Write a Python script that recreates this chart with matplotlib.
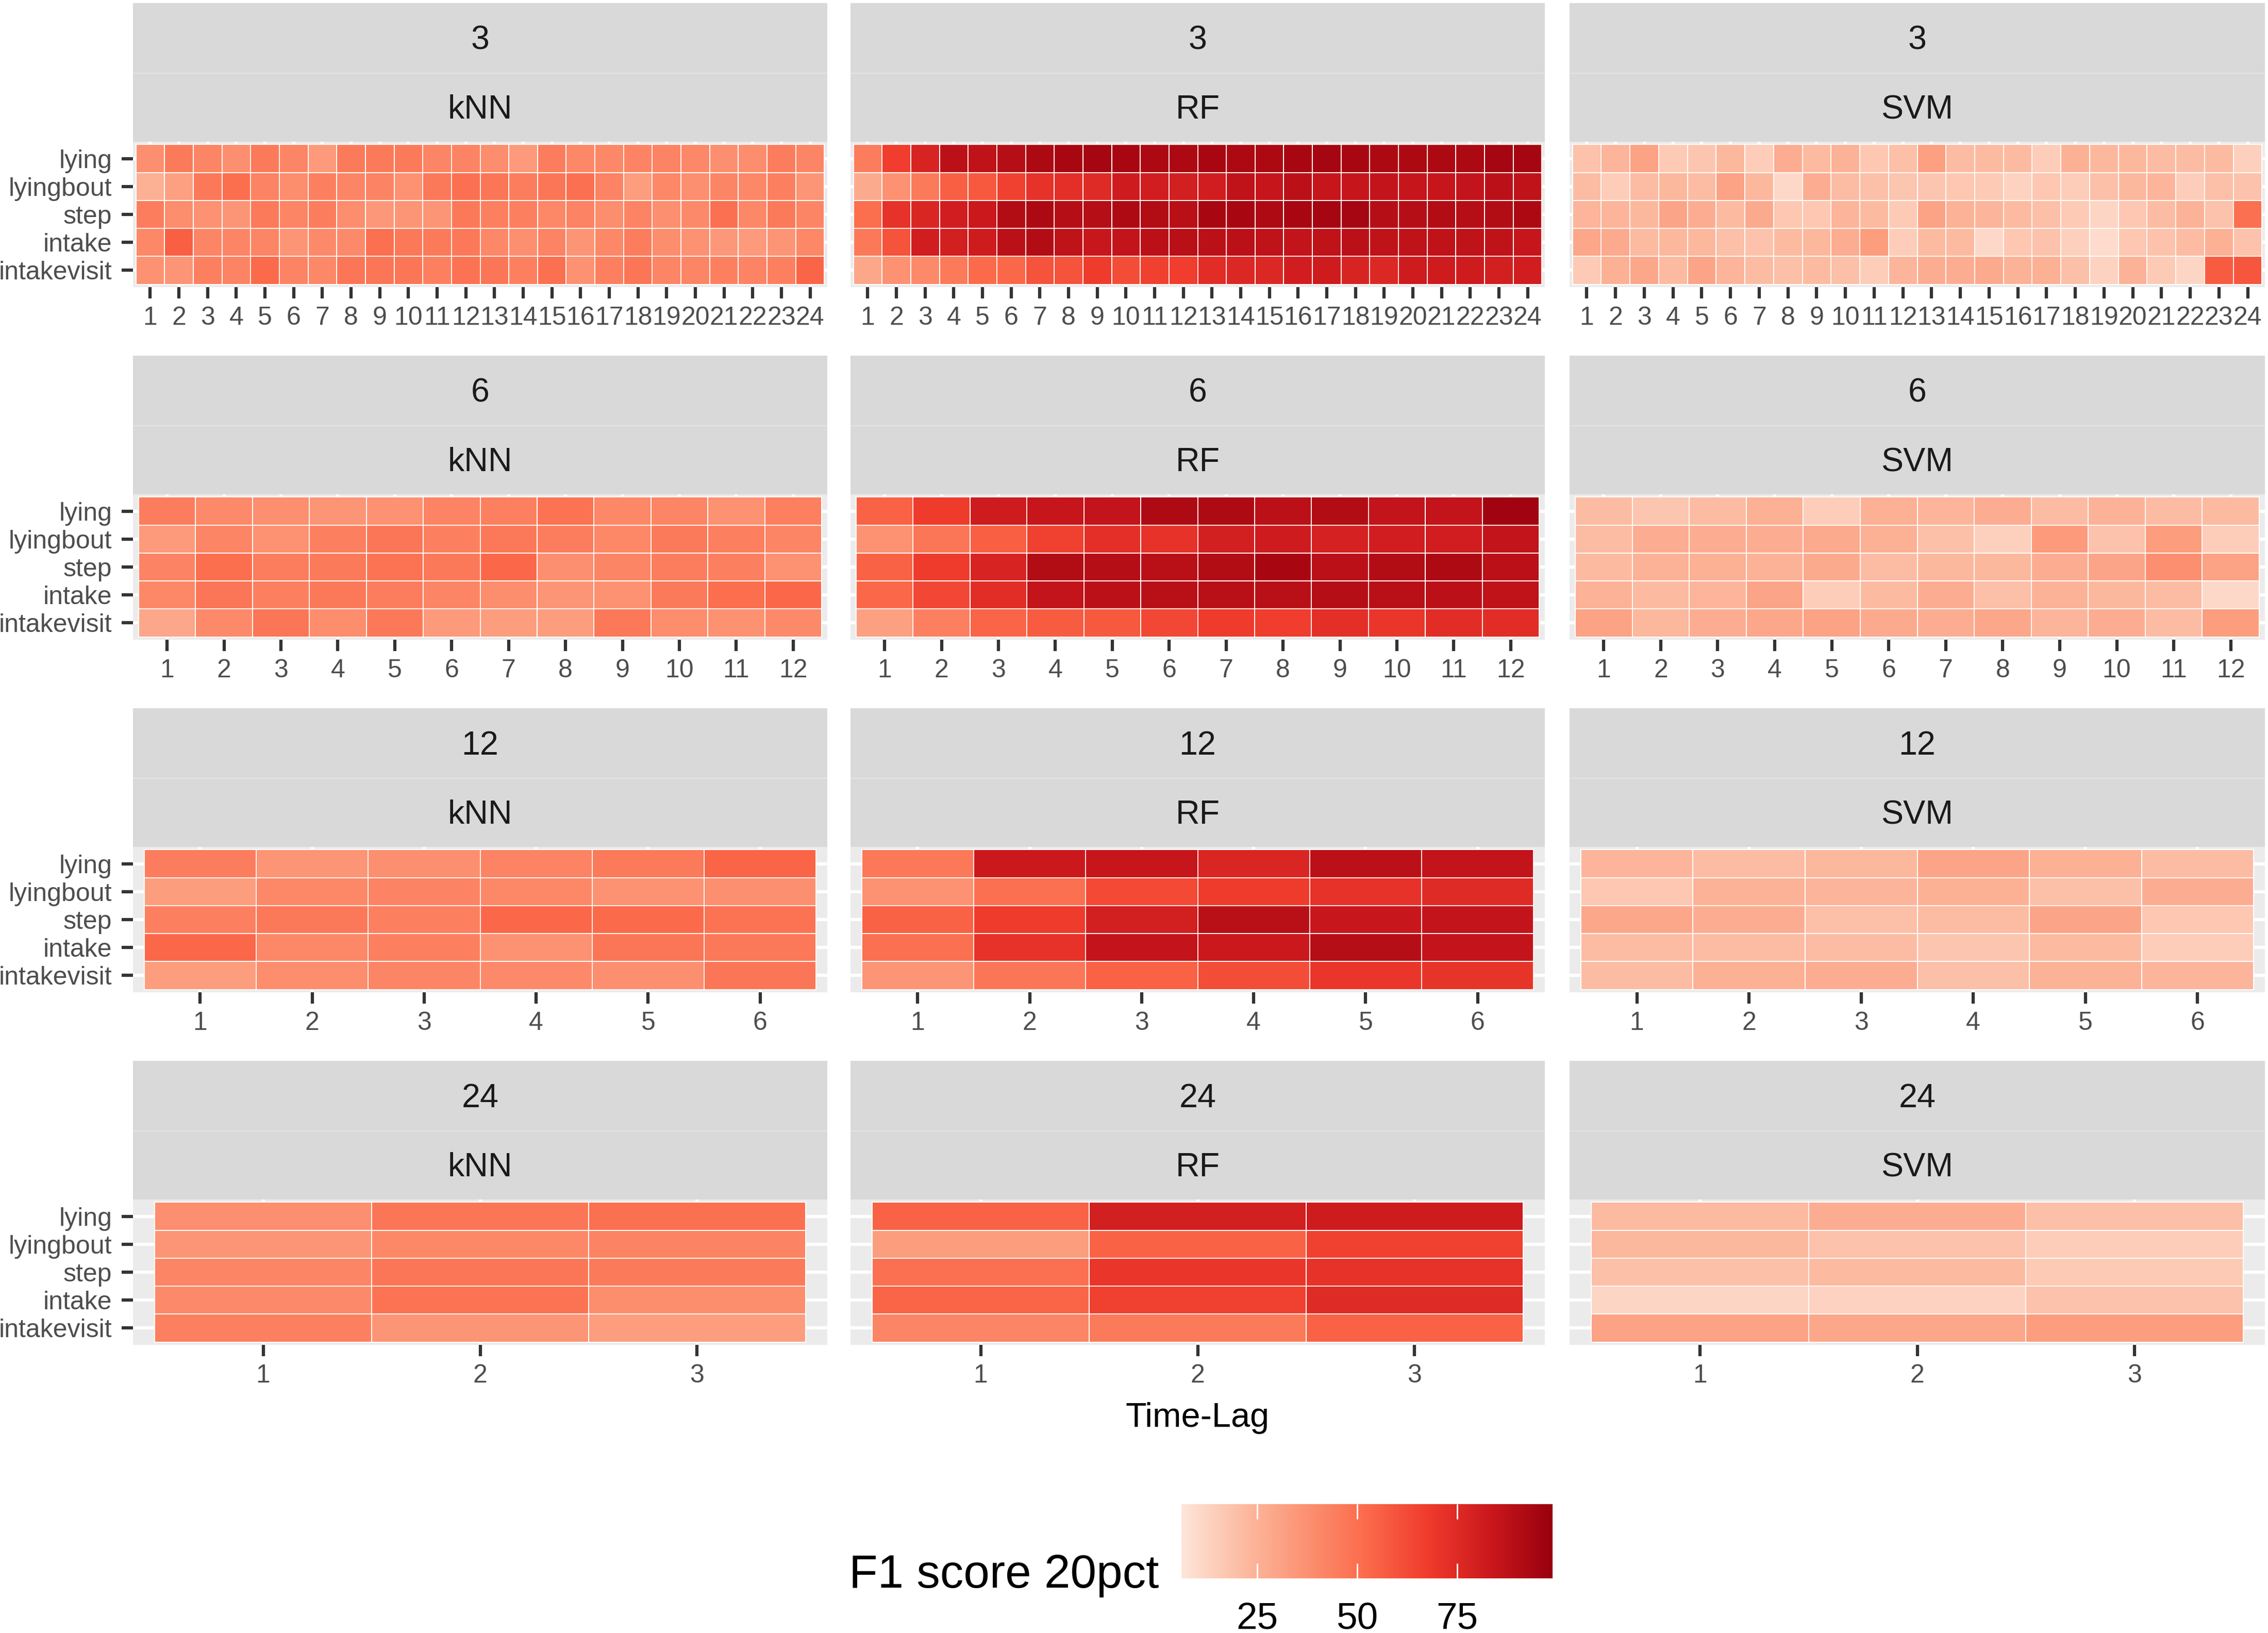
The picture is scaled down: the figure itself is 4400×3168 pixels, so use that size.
import numpy as np
import matplotlib
matplotlib.use("Agg")
import matplotlib.pyplot as plt
from matplotlib.colors import LinearSegmentedColormap, Normalize

plt.rcParams['font.family'] = ['Liberation Sans', 'DejaVu Sans']

# ---------------- data ----------------
behaviours = ["lying", "lyingbout", "step", "intake", "intakevisit"]
models = ["kNN", "RF", "SVM"]
resolutions = ["3", "6", "12", "24"]
legend_ticks = [25, 50, 75]
score_min, score_max = 6.1, 98.8

knn_3 = [
    [38, 46, 42, 38, 46, 42, 34, 46, 46, 46, 42, 43, 39, 34, 45, 41, 41, 43, 43, 41, 38, 39, 45, 42],
    [26, 32, 47, 51, 43, 39, 44, 42, 43, 37, 47, 50, 48, 45, 48, 50, 43, 33, 41, 38, 42, 41, 44, 36],
    [45, 39, 37, 36, 46, 42, 45, 39, 35, 36, 36, 47, 44, 44, 41, 43, 39, 43, 38, 40, 50, 41, 46, 42],
    [41, 56, 42, 42, 42, 36, 40, 40, 50, 47, 46, 47, 41, 38, 43, 36, 41, 45, 39, 37, 35, 34, 36, 41],
    [37, 36, 44, 43, 52, 43, 41, 48, 48, 48, 44, 49, 48, 44, 50, 37, 44, 48, 42, 42, 44, 43, 44, 54],
]
rf_3 = [
    [45, 67, 78, 88, 87, 90, 93, 94, 95, 94, 93, 93, 94, 93, 93, 94, 95, 94, 93, 93, 93, 93, 95, 95],
    [28, 37, 46, 56, 58, 66, 72, 73, 75, 82, 81, 80, 81, 87, 85, 88, 85, 85, 86, 85, 85, 86, 88, 87],
    [51, 72, 77, 81, 83, 91, 93, 90, 90, 92, 91, 89, 94, 94, 92, 94, 95, 95, 90, 90, 91, 90, 91, 93],
    [47, 60, 81, 80, 82, 88, 91, 87, 84, 86, 88, 89, 88, 88, 87, 86, 87, 88, 87, 87, 87, 87, 87, 85],
    [29, 37, 40, 46, 52, 53, 60, 60, 68, 62, 66, 67, 74, 76, 76, 81, 82, 78, 76, 82, 82, 82, 80, 81],
]
svm_3 = [
    [19, 24, 31, 16, 18, 23, 15, 27, 22, 25, 17, 20, 32, 21, 22, 22, 15, 26, 23, 23, 21, 21, 22, 14],
    [21, 15, 21, 23, 21, 31, 23, 11, 27, 21, 20, 18, 18, 17, 16, 13, 17, 15, 20, 23, 24, 15, 20, 19],
    [24, 24, 23, 30, 27, 22, 28, 17, 17, 24, 22, 16, 31, 25, 24, 22, 20, 16, 12, 17, 21, 25, 19, 50],
    [29, 28, 22, 23, 23, 20, 19, 22, 23, 27, 33, 15, 22, 22, 11, 17, 19, 14, 10, 17, 19, 21, 26, 19],
    [16, 26, 29, 22, 30, 24, 21, 20, 22, 20, 15, 24, 27, 27, 28, 25, 26, 20, 13, 25, 16, 12, 57, 59],
]
knn_6 = [
    [45, 40, 38, 36, 37, 43, 44, 49, 41, 42, 37, 44],
    [34, 42, 37, 44, 48, 44, 47, 45, 41, 46, 44, 42],
    [43, 51, 45, 46, 49, 47, 53, 38, 42, 45, 44, 37],
    [41, 48, 44, 47, 45, 42, 39, 36, 37, 46, 51, 53],
    [29, 40, 48, 39, 47, 34, 33, 33, 47, 39, 37, 40],
]
rf_6 = [
    [55, 68, 82, 85, 86, 92, 92, 88, 91, 86, 86, 96],
    [37, 48, 56, 66, 73, 72, 80, 82, 79, 81, 81, 86],
    [55, 68, 78, 91, 90, 89, 91, 94, 88, 91, 92, 88],
    [53, 64, 74, 86, 88, 89, 89, 89, 90, 89, 88, 87],
    [32, 44, 54, 57, 58, 64, 68, 67, 73, 70, 74, 74],
]
svm_6 = [
    [21, 18, 21, 26, 15, 26, 24, 27, 21, 25, 21, 22],
    [21, 27, 27, 27, 28, 26, 20, 14, 34, 19, 33, 15],
    [22, 25, 26, 25, 28, 21, 23, 23, 27, 30, 38, 31],
    [25, 22, 24, 30, 15, 22, 27, 20, 25, 23, 21, 11],
    [31, 23, 27, 29, 31, 28, 27, 29, 24, 27, 21, 33],
]
knn_12 = [
    [45, 36, 38, 43, 46, 54],
    [33, 41, 43, 41, 37, 38],
    [44, 47, 44, 53, 52, 49],
    [53, 41, 44, 37, 48, 47],
    [33, 39, 42, 40, 38, 48],
]
rf_12 = [
    [47, 83, 85, 77, 88, 86],
    [37, 50, 63, 68, 72, 75],
    [55, 68, 80, 89, 84, 86],
    [50, 72, 86, 83, 90, 86],
    [36, 48, 55, 62, 70, 71],
]
svm_12 = [
    [24, 21, 23, 30, 26, 21],
    [17, 25, 24, 26, 20, 27],
    [29, 27, 20, 21, 30, 17],
    [21, 21, 21, 18, 22, 15],
    [21, 26, 27, 20, 25, 24],
]
knn_24 = [
    [38, 48, 50],
    [36, 41, 43],
    [42, 48, 46],
    [40, 49, 39],
    [44, 36, 33],
]
rf_24 = [
    [55, 80, 82],
    [33, 55, 66],
    [50, 70, 72],
    [54, 66, 75],
    [42, 46, 55],
]
svm_24 = [
    [22, 27, 20],
    [23, 19, 15],
    [20, 22, 16],
    [12, 13, 19],
    [31, 29, 33],
]

panels = [
    [knn_3, rf_3, svm_3],
    [knn_6, rf_6, svm_6],
    [knn_12, rf_12, svm_12],
    [knn_24, rf_24, svm_24],
]

# ---------------- style ----------------
W, H = 4400, 3168
DPI = 300
fig = plt.figure(figsize=(W / DPI, H / DPI), dpi=DPI)
fig.patch.set_facecolor("white")

reds7 = ['#FEE5D9', '#FCBBA1', '#FC9272', '#FB6A4A', '#EF3B2C', '#CB181D', '#99000D']
cmap = LinearSegmentedColormap.from_list("reds7", reds7)
norm = Normalize(vmin=score_min, vmax=score_max)


def rect(x0, y0, x1, y1):
    return [x0 / W, 1 - y1 / H, (x1 - x0) / W, (y1 - y0) / H]


col_left = [258, 1650, 3045]
col_right = [1605, 2997, 4394]
row_pitch = 684
strip_top0 = 6
strip_h = 134.5
panel_top0 = 275
panel_bot0 = 557

strip_col = "#D9D9D9"
panel_col = "#EBEBEB"
nb = len(behaviours)

for r, res in enumerate(resolutions):
    for c, model in enumerate(models):
        vals = np.array(panels[r][c], dtype=float)
        n = vals.shape[1]
        x0, x1 = col_left[c], col_right[c]
        pt = panel_top0 + r * row_pitch
        pb = panel_bot0 + r * row_pitch
        ax = fig.add_axes(rect(x0, pt, x1, pb))
        ax.set_facecolor(panel_col)
        xe = np.arange(n + 1) + 0.5
        ye = np.arange(nb + 1) + 0.5
        # flip so first behaviour is on top
        ax.pcolormesh(xe, ye, vals[::-1], cmap=cmap, norm=norm,
                      edgecolors="white", linewidth=0.45, zorder=2)
        ax.set_xlim(0.4, n + 0.6)
        ax.set_ylim(0.4, nb + 0.6)
        ax.set_xticks(np.arange(1, n + 1))
        ax.set_xticklabels([str(i) for i in range(1, n + 1)])
        ax.set_yticks(np.arange(1, nb + 1))
        if c == 0:
            ax.set_yticklabels(behaviours[::-1])
            ax.tick_params(axis="y", length=5.3, width=1.5, color="#333333",
                           pad=4.5, labelsize=12, labelcolor="#4D4D4D")
        else:
            ax.set_yticklabels([])
            ax.tick_params(axis="y", length=0)
        ax.tick_params(axis="x", length=5.3, width=1.5, color="#333333",
                       pad=3.5, labelsize=12, labelcolor="#4D4D4D")
        ax.grid(True, color="white", linewidth=1.5, zorder=1)
        ax.set_axisbelow(True)
        for s in ax.spines.values():
            s.set_visible(False)

        # strips
        st = strip_top0 + r * row_pitch
        for k, label in enumerate([res, model]):
            sax = fig.add_axes(rect(x0, st + k * strip_h, x1, st + (k + 1) * strip_h))
            sax.set_facecolor(strip_col)
            sax.set_xticks([])
            sax.set_yticks([])
            for s in sax.spines.values():
                s.set_visible(False)
            sax.text(0.5, 0.46, label, ha="center", va="center", fontsize=15.5,
                     color="#1A1A1A", transform=sax.transAxes)
            if k == 1:
                sax.axhline(1.0, color="#E6E6E6", linewidth=0.6)

# x-axis title
fig.text(2323 / W, 1 - 2751 / H, "Time-Lag", ha="center", va="center",
         fontsize=16, color="black")

# legend colourbar
cax = fig.add_axes(rect(2292, 2918, 3012, 3062))
grad = np.linspace(score_min, score_max, 512)[None, :]
cax.imshow(grad, cmap=cmap, norm=norm, aspect="auto",
           extent=[score_min, score_max, 0, 1], origin="lower")
cax.set_xlim(score_min, score_max)
cax.set_ylim(0, 1)
cax.vlines(legend_ticks, 0, 0.2, colors="white", linewidth=0.7)
cax.vlines(legend_ticks, 0.8, 1, colors="white", linewidth=0.7)
cax.set_xticks(legend_ticks)
cax.set_xticklabels([str(t) for t in legend_ticks])
cax.set_yticks([])
cax.tick_params(axis="x", length=0, pad=10.8, labelsize=17.5, labelcolor="black")
for s in cax.spines.values():
    s.set_visible(False)

fig.text(1647 / W, 1 - 3080 / H, "F1 score 20pct", ha="left", va="baseline",
         fontsize=21.8, color="black")

fig.savefig("out.png", dpi=DPI, facecolor="white")
